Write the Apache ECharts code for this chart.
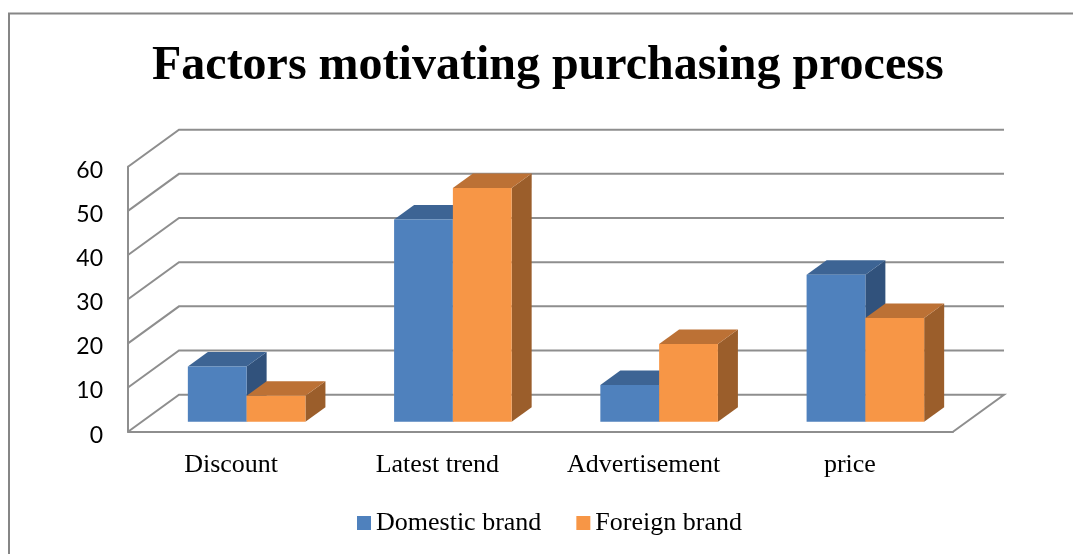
<!DOCTYPE html>
<html>
<head>
<meta charset="utf-8">
<style>
  html, body { margin: 0; padding: 0; background: #ffffff; }
  #chart { width: 1073px; height: 554px; }
</style>
<script src="https://cdn.jsdelivr.net/npm/echarts@6/dist/echarts.min.js"></script>
</head>
<body>
<div id="chart"></div>
<script>
// Survey shares (%) per motivating factor
const categories = ['Discount', 'Latest trend', 'Advertisement', 'price'];
const domestic = [12.5, 45.8, 8.3, 33.3];
const foreign = [5.9, 52.9, 17.6, 23.5];
const yTicks = [0, 10, 20, 30, 40, 50, 60];
const seriesNames = ['Domestic brand', 'Foreign brand'];

// Pseudo-3D projection: offset of the back wall from the front plane
const WALL_DX = 51, WALL_DY = -37;
// Bars sit part-way into the depth; front face offset and bar depth
const BAR_DX = 15.5, BAR_DY = -10;
const DEPTH_DX = 20, DEPTH_DY = -14.5;
const BAR_FRAC = 0.285;
const GRID_COLOR = '#8e8e8e';

const palette = {
  'Domestic brand': { front: '#4f81bd', top: '#3d6494', side: '#31527c' },
  'Foreign brand':  { front: '#f79646', top: '#bc7135', side: '#9b5e2b' }
};

function wallItem(params, api) {
  const v = api.value(0);
  const cs = params.coordSys;
  const y = api.coord([0, v])[1];
  const xl = cs.x, xr = cs.x + cs.width;
  const pts = [[xl, y], [xl + WALL_DX, y + WALL_DY], [xr + WALL_DX, y + WALL_DY]];
  if (v === 0) pts.push([xr, y]);
  return {
    type: 'polyline',
    shape: { points: pts },
    style: { stroke: GRID_COLOR, lineWidth: 2, fill: null },
    silent: true
  };
}

function makeBarRenderer(name, side) {
  const c = palette[name];
  return function (params, api) {
    const idx = api.value(0);
    const val = api.value(1);
    const base = api.coord([idx, 0]);
    const top = api.coord([idx, val]);
    const band = api.size([1, 0])[0];
    const w = band * BAR_FRAC;
    const x0 = base[0] + (side < 0 ? -w : 0) + BAR_DX;
    const x1 = x0 + w;
    const yb = base[1] + BAR_DY;
    const yt = top[1] + BAR_DY;
    return {
      type: 'group',
      children: [
        { type: 'polygon',
          shape: { points: [[x1, yt], [x1 + DEPTH_DX, yt + DEPTH_DY], [x1 + DEPTH_DX, yb + DEPTH_DY], [x1, yb]] },
          style: { fill: c.side } },
        { type: 'polygon',
          shape: { points: [[x0, yt], [x1, yt], [x1 + DEPTH_DX, yt + DEPTH_DY], [x0 + DEPTH_DX, yt + DEPTH_DY]] },
          style: { fill: c.top } },
        { type: 'rect',
          shape: { x: x0, y: yt, width: w, height: yb - yt },
          style: { fill: c.front } }
      ]
    };
  };
}

const chart = echarts.init(document.getElementById('chart'), null, { renderer: 'canvas' });

chart.setOption({
  backgroundColor: '#ffffff',
  animation: false,
  graphic: [{
    type: 'rect',
    shape: { x: 9, y: 13.5, width: 1200, height: 700 },
    style: { fill: null, stroke: '#868686', lineWidth: 2 },
    silent: true,
    z: -10
  }],
  title: {
    text: 'Factors motivating purchasing process',
    left: 147,
    top: 38,
    textStyle: {
      fontFamily: 'Liberation Serif',
      fontWeight: 'bold',
      fontSize: 48,
      color: '#000000'
    }
  },
  legend: {
    data: seriesNames,
    left: 352,
    top: 505,
    icon: 'rect',
    itemWidth: 14,
    itemHeight: 14,
    itemGap: 35,
    textStyle: { fontFamily: 'Liberation Serif', fontSize: 26, color: '#000000' }
  },
  grid: { left: 128, top: 166.7, width: 825, height: 265 },
  xAxis: {
    type: 'category',
    data: categories,
    axisLine: { show: true, lineStyle: { color: GRID_COLOR, width: 2 } },
    axisTick: { show: false },
    splitLine: { show: false },
    axisLabel: {
      margin: 20,
      fontFamily: 'Liberation Serif',
      fontSize: 26,
      color: '#000000'
    }
  },
  yAxis: {
    type: 'value',
    min: 0,
    max: 60,
    interval: 10,
    axisLine: { show: true, lineStyle: { color: GRID_COLOR, width: 2 } },
    axisTick: { show: false },
    splitLine: { show: false },
    axisLabel: {
      margin: 25,
      fontFamily: 'Lato',
      fontSize: 23,
      color: '#000000',
      verticalAlign: 'top',
      lineHeight: 7
    }
  },
  series: [
    {
      type: 'custom',
      name: 'walls',
      renderItem: wallItem,
      data: yTicks.map(v => [v]),
      encode: { y: 0 },
      z: 1,
      silent: true
    },
    {
      type: 'custom',
      name: seriesNames[0],
      renderItem: makeBarRenderer(seriesNames[0], -1),
      data: domestic.map((v, i) => [i, v]),
      encode: { x: 0, y: 1 },
      itemStyle: { color: palette[seriesNames[0]].front },
      z: 3
    },
    {
      type: 'custom',
      name: seriesNames[1],
      renderItem: makeBarRenderer(seriesNames[1], 1),
      data: foreign.map((v, i) => [i, v]),
      encode: { x: 0, y: 1 },
      itemStyle: { color: palette[seriesNames[1]].front },
      z: 4
    }
  ]
});
</script>
</body>
</html>
